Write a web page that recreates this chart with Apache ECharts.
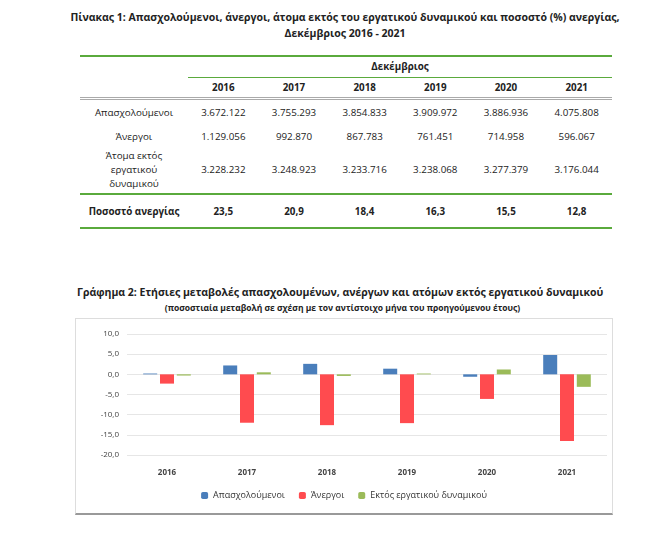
<!DOCTYPE html>
<html>
<head>
<meta charset="utf-8">
<script src="https://cdn.jsdelivr.net/npm/echarts@6/dist/echarts.min.js"></script>
<style>
  body { margin: 0; background: #fff; font-family: "Open Sans", sans-serif; color: #222; }
  .t1 { position: absolute; left: 60px; width: 570px; text-align: center; font-weight: bold; font-size: 10.5px; }
  #tbl { position: absolute; left: 80px; top: 55px; width: 532px; border-collapse: collapse; font-size: 9.8px; }
  #tbl td { text-align: center; padding: 0; }
  .t2 { position: absolute; font-weight: bold; }
  #chart { position: absolute; left: 75px; top: 318px; width: 536px; height: 194px; border: 1px solid #ddd; border-bottom: 2px solid #999; }
</style>
</head>
<body>
<div class="t1" style="top:10px">Πίνακας 1: Απασχολούμενοι, άνεργοι, άτομα εκτός του εργατικού δυναμικού και ποσοστό (%) ανεργίας,</div>
<div class="t1" style="top:26px">Δεκέμβριος 2016 - 2021</div>
<table id="tbl"></table>
<div class="t2" style="left:77px;top:285px;font-size:10.5px">Γράφημα 2: Ετήσιες μεταβολές απασχολουμένων, ανέργων και ατόμων εκτός εργατικού δυναμικού</div>
<div class="t2" style="left:0;width:685px;text-align:center;top:302px;font-size:8.5px">(ποσοστιαία μεταβολή σε σχέση με τον αντίστοιχο μήνα του προηγούμενου έτους)</div>
<div id="chart"></div>
<script>
const years = ['2016', '2017', '2018', '2019', '2020', '2021'];
const employed = ['3.672.122', '3.755.293', '3.854.833', '3.909.972', '3.886.936', '4.075.808'];
const unemployed = ['1.129.056', '992.870', '867.783', '761.451', '714.958', '596.067'];
const outside = ['3.228.232', '3.248.923', '3.233.716', '3.238.068', '3.277.379', '3.176.044'];
const rate = ['23,5', '20,9', '18,4', '16,3', '15,5', '12,8'];

const chgEmployed = [0.2, 2.2, 2.6, 1.4, -0.6, 4.8];
const chgUnemployed = [-2.3, -12.0, -12.6, -12.1, -6.1, -16.5];
const chgOutside = [-0.3, 0.5, -0.4, 0.2, 1.2, -3.1];

// table
const g = '2px solid #5aaa3c';
let h = '<tr style="border-top:' + g + ';height:21px"><td></td><td colspan="6" style="font-weight:bold;border-bottom:1px solid #5aaa3c">Δεκέμβριος</td></tr>';
h += '<tr style="height:21px;font-weight:bold;border-bottom:3px double #aaa"><td style="width:108px"></td>' + years.map(y => '<td>' + y + '</td>').join('') + '</tr>';
const row = (lab, arr, st) => '<tr style="' + st + '"><td>' + lab + '</td>' + arr.map(v => '<td>' + v + '</td>').join('') + '</tr>';
h += row('Απασχολούμενοι', employed, 'height:27px');
h += row('Άνεργοι', unemployed, 'height:22px');
h += row('Άτομα εκτός<br>εργατικού<br>δυναμικού', outside, 'height:47px;line-height:14px');
h += row('Ποσοστό ανεργίας', rate, 'height:34px;font-weight:bold;border-top:' + g + ';border-bottom:' + g);
document.getElementById('tbl').innerHTML = h;

// chart
const chart = echarts.init(document.getElementById('chart'));
const bar = (name, data, color) => ({ name, type: 'bar', data, itemStyle: { color }, barWidth: 14, barGap: '20%' });
chart.setOption({
  animation: false,
  textStyle: { fontFamily: 'Open Sans' },
  grid: { left: 51, right: 5, top: 15, bottom: 58 },
  legend: { bottom: 8, itemWidth: 7, itemHeight: 7, itemGap: 14, textStyle: { fontSize: 9, color: '#333' } },
  xAxis: {
    type: 'category', data: years,
    axisLine: { show: false }, axisTick: { show: false },
    axisLabel: { fontSize: 8, fontWeight: 'bold', color: '#444', margin: 14 }
  },
  yAxis: {
    type: 'value', min: -20, max: 10, interval: 5,
    axisLabel: { fontSize: 8, color: '#444', formatter: v => v.toFixed(1).replace('.', ',') },
    splitLine: { lineStyle: { color: '#e6e6e6' } }
  },
  series: [
    bar('Απασχολούμενοι', chgEmployed, '#4a7ebb'),
    bar('Άνεργοι', chgUnemployed, '#ff4b4f'),
    bar('Εκτός εργατικού δυναμικού', chgOutside, '#9bbb59')
  ]
});
</script>
</body>
</html>
